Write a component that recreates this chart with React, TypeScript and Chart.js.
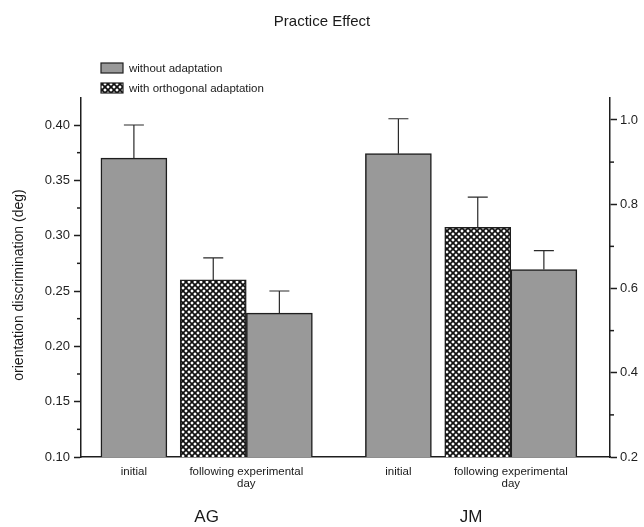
import React, { useEffect, useRef } from "react";
import { Chart, registerables } from "chart.js";

Chart.register(...registerables);

// ---------- data ----------
const chartTitle = "Practice Effect";
const subjects = ["AG", "JM"];
const sessionLabels: string[][] = [["initial"], ["following experimental", "day"]];
const seriesNames = ["without adaptation", "with orthogonal adaptation"];
const yAxisTitle = "orientation discrimination (deg)";

// AG (left axis): [initial, following day]
const agWithout = [0.37, 0.23];
const agWithoutErr = [0.03, 0.02];
const agWith = [0.26];
const agWithErr = [0.02];

// JM (right axis): [initial, following day]
const jmWithout = [0.92, 0.645];
const jmWithoutErr = [0.083, 0.045];
const jmWith = [0.745];
const jmWithErr = [0.072];

const leftTicks = [0.1, 0.15, 0.2, 0.25, 0.3, 0.35, 0.4];
const rightTicks = [0.2, 0.4, 0.6, 0.8, 1.0];

// ---------- layout (positions on the x scale) ----------
const X_MIN = 0;
const X_MAX = 8;
const slotInitial = 0.8;
const slotWith = 2.0;
const slotWithout = 3.0;
const subjectShift = 4;
const LEFT_MIN = 0.1;
const LEFT_MAX = 0.4244;
const RIGHT_MIN = 0.2;
const RIGHT_MAX = 1.0522;

const FONT = "'Liberation Sans', Arial, Helvetica, sans-serif";
const GRAY = "#999999";
const INK = "#1e1e1e";

function makeHatch(): CanvasPattern | string {
  const c = document.createElement("canvas");
  c.width = 6;
  c.height = 6;
  const g = c.getContext("2d");
  if (!g) return "#555";
  g.fillStyle = "#ffffff";
  g.fillRect(0, 0, 6, 6);
  g.strokeStyle = "#111111";
  g.lineWidth = 1.7;
  g.beginPath();
  for (const o of [-6, 0, 6]) {
    g.moveTo(o, 0);
    g.lineTo(o + 6, 6);
    g.moveTo(o, 6);
    g.lineTo(o + 6, 0);
  }
  g.stroke();
  const p = g.createPattern(c, "repeat");
  return p || "#555";
}

function midpoints(arr: number[]): number[] {
  const out: number[] = [];
  for (let i = 0; i < arr.length - 1; i++) out.push((arr[i] + arr[i + 1]) / 2);
  return out;
}

export default function App() {
  const ref = useRef<HTMLCanvasElement | null>(null);

  useEffect(() => {
    document.body.style.margin = "0";
    const canvas = ref.current;
    if (!canvas) return;
    const hatch = makeHatch();

    const errKey = "errs";
    const datasets: any[] = [
      {
        label: seriesNames[0] + " AG",
        data: [
          { x: slotInitial, y: agWithout[0] },
          { x: slotWithout, y: agWithout[1] },
        ],
        [errKey]: agWithoutErr,
        yAxisID: "y",
        backgroundColor: GRAY,
      },
      {
        label: seriesNames[1] + " AG",
        data: [{ x: slotWith, y: agWith[0] }],
        [errKey]: agWithErr,
        yAxisID: "y",
        backgroundColor: hatch,
      },
      {
        label: seriesNames[0] + " JM",
        data: [
          { x: subjectShift + slotInitial, y: jmWithout[0] },
          { x: subjectShift + slotWithout, y: jmWithout[1] },
        ],
        [errKey]: jmWithoutErr,
        yAxisID: "y2",
        backgroundColor: GRAY,
      },
      {
        label: seriesNames[1] + " JM",
        data: [{ x: subjectShift + slotWith, y: jmWith[0] }],
        [errKey]: jmWithErr,
        yAxisID: "y2",
        backgroundColor: hatch,
      },
    ].map((d) => ({
      ...d,
      borderColor: INK,
      borderWidth: 1.5,
      barThickness: 66,
      grouped: false,
    }));

    const decor = {
      id: "decor",
      afterDatasetsDraw(chart: any) {
        const ctx = chart.ctx as CanvasRenderingContext2D;
        const xs = chart.scales.x;
        const yl = chart.scales.y;
        const yr = chart.scales.y2;
        const area = chart.chartArea;
        ctx.save();

        // error bars (upper only)
        ctx.strokeStyle = "#2a2a2a";
        ctx.lineWidth = 1.2;
        chart.data.datasets.forEach((ds: any, i: number) => {
          const meta = chart.getDatasetMeta(i);
          const sc = chart.scales[ds.yAxisID];
          meta.data.forEach((bar: any, j: number) => {
            const v = ds.data[j].y;
            const e = ds[errKey][j];
            const top = sc.getPixelForValue(v + e);
            ctx.beginPath();
            ctx.moveTo(bar.x, bar.y);
            ctx.lineTo(bar.x, top);
            ctx.moveTo(bar.x - 10, top);
            ctx.lineTo(bar.x + 10, top);
            ctx.stroke();
          });
        });

        // minor ticks
        ctx.strokeStyle = INK;
        ctx.lineWidth = 1.5;
        midpoints(leftTicks).forEach((v) => {
          const y = yl.getPixelForValue(v);
          ctx.beginPath();
          ctx.moveTo(area.left - 4, y);
          ctx.lineTo(area.left, y);
          ctx.stroke();
        });
        midpoints(rightTicks).forEach((v) => {
          const y = yr.getPixelForValue(v);
          ctx.beginPath();
          ctx.moveTo(area.right, y);
          ctx.lineTo(area.right + 4, y);
          ctx.stroke();
        });

        ctx.fillStyle = "#1a1a1a";
        ctx.textAlign = "center";
        ctx.textBaseline = "middle";

        // title
        ctx.font = `15px ${FONT}`;
        ctx.fillText(chartTitle, 322, 22);

        // legend
        const lx = 101;
        const rows = [
          { y: 63, fill: GRAY as any, text: seriesNames[0] },
          { y: 83, fill: hatch as any, text: seriesNames[1] },
        ];
        rows.forEach((r) => {
          ctx.fillStyle = r.fill;
          ctx.fillRect(lx, r.y, 22, 10);
          ctx.strokeStyle = INK;
          ctx.lineWidth = 1.2;
          ctx.strokeRect(lx, r.y, 22, 10);
          ctx.fillStyle = "#1a1a1a";
          ctx.textAlign = "left";
          ctx.font = `11.5px ${FONT}`;
          ctx.fillText(r.text, 129, r.y + 5.5);
        });

        // x category labels
        ctx.textAlign = "center";
        ctx.font = `11.5px ${FONT}`;
        subjects.forEach((s, si) => {
          const base = si * subjectShift;
          const centers = [base + slotInitial, base + (slotWith + slotWithout) / 2];
          sessionLabels.forEach((lines, li) => {
            const x = xs.getPixelForValue(centers[li]);
            lines.forEach((t, k) => {
              ctx.fillText(t, x, 472 + k * 12);
            });
          });
          ctx.font = `17px ${FONT}`;
          const gx = xs.getPixelForValue(base + (slotInitial + slotWithout) / 2);
          ctx.fillText(s, gx, 517);
          ctx.font = `11.5px ${FONT}`;
        });

        // y axis title
        ctx.save();
        ctx.translate(19, 285);
        ctx.rotate(-Math.PI / 2);
        ctx.font = `14px ${FONT}`;
        ctx.textAlign = "center";
        ctx.fillText(yAxisTitle, 0, 0);
        ctx.restore();

        ctx.restore();
      },
    };

    const chart = new Chart(canvas, {
      type: "bar",
      data: { datasets },
      options: {
        animation: false,
        responsive: false,
        events: [],
        layout: { padding: { top: 98, left: 0, right: 0, bottom: 0 } },
        plugins: { legend: { display: false }, tooltip: { enabled: false }, title: { display: false } },
        scales: {
          x: {
            type: "linear",
            min: X_MIN,
            max: X_MAX,
            offset: false,
            grid: { display: false, offset: false },
            ticks: { display: false },
            border: { display: true, color: INK, width: 1.5 },
            afterFit: (s: any) => {
              s.height = 70;
            },
          },
          y: {
            type: "linear",
            position: "left",
            min: LEFT_MIN,
            max: LEFT_MAX,
            afterBuildTicks: (s: any) => {
              s.ticks = leftTicks.map((v) => ({ value: v }));
            },
            ticks: {
              callback: (v: any) => Number(v).toFixed(2),
              font: { family: FONT, size: 13 },
              color: "#1e1e1e",
              padding: 4,
            },
            grid: { display: true, drawOnChartArea: false, drawTicks: true, tickLength: 7, tickColor: INK, tickWidth: 1.5 },
            border: { display: true, color: INK, width: 1.5 },
            afterFit: (s: any) => {
              s.width = 81;
            },
          },
          y2: {
            type: "linear",
            position: "right",
            min: RIGHT_MIN,
            max: RIGHT_MAX,
            afterBuildTicks: (s: any) => {
              s.ticks = rightTicks.map((v) => ({ value: v }));
            },
            ticks: {
              callback: (v: any) => Number(v).toFixed(1),
              font: { family: FONT, size: 13 },
              color: "#1e1e1e",
              padding: 3,
            },
            grid: { display: true, drawOnChartArea: false, drawTicks: true, tickLength: 7, tickColor: INK, tickWidth: 1.5 },
            border: { display: true, color: INK, width: 1.5 },
            afterFit: (s: any) => {
              s.width = 34;
            },
          },
        },
      } as any,
      plugins: [decor],
    });

    return () => chart.destroy();
  }, []);

  return (
    <div style={{ position: "absolute", left: 0, top: 0, width: 644, height: 527, background: "#fff" }}>
      <canvas ref={ref} width={644} height={527} style={{ display: "block" }} />
    </div>
  );
}
